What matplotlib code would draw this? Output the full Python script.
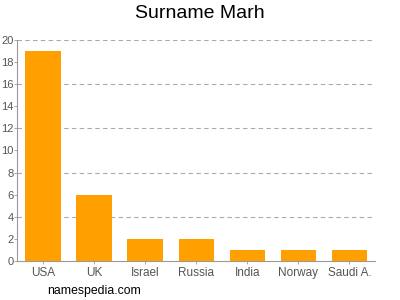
import matplotlib
matplotlib.use('Agg')
import matplotlib.pyplot as plt

plt.rcParams['font.family'] = ['Liberation Sans', 'DejaVu Sans']

countries = ['USA', 'UK', 'Israel', 'Russia', 'India', 'Norway', 'Saudi A.']
counts = [19, 6, 2, 2, 1, 1, 1]
y_ticks = list(range(0, 21, 2))
grid_levels = [4, 8, 12, 16, 20]

fig = plt.figure(figsize=(4, 3), dpi=100)
ax = fig.add_axes([0.0435, 0.13, 0.894, 0.737])

x = list(range(len(countries)))
ax.bar(x, counts, width=0.69, color='#ffa000', zorder=3)

ax.set_xlim(-0.5, len(countries) - 0.5)
ax.set_ylim(0, 20)
ax.set_yticks(y_ticks)
ax.set_xticks(x)
ax.set_xticklabels(countries)

for g in grid_levels:
    ax.axhline(g, color='#aaaaaa', linestyle=(0, (4, 3)), linewidth=0.8, zorder=1)

for side in ['top', 'right']:
    ax.spines[side].set_visible(False)
for side in ['left', 'bottom']:
    ax.spines[side].set_color('#999999')
    ax.spines[side].set_linewidth(0.8)

ax.tick_params(axis='both', colors='#999999', labelcolor='#555555', labelsize=8, length=2, width=0.6)
ax.tick_params(axis='y', pad=0.8)
ax.tick_params(axis='x', labelsize=8.5, pad=2)

fig.text(0.5, 0.955, 'Surname Marh', ha='center', va='center', fontsize=14, color='#000000')
fig.text(0.118, 0.031, 'namespedia.com', ha='left', va='center', fontsize=8.8, color='#000000')

fig.savefig('out.png', dpi=100)
